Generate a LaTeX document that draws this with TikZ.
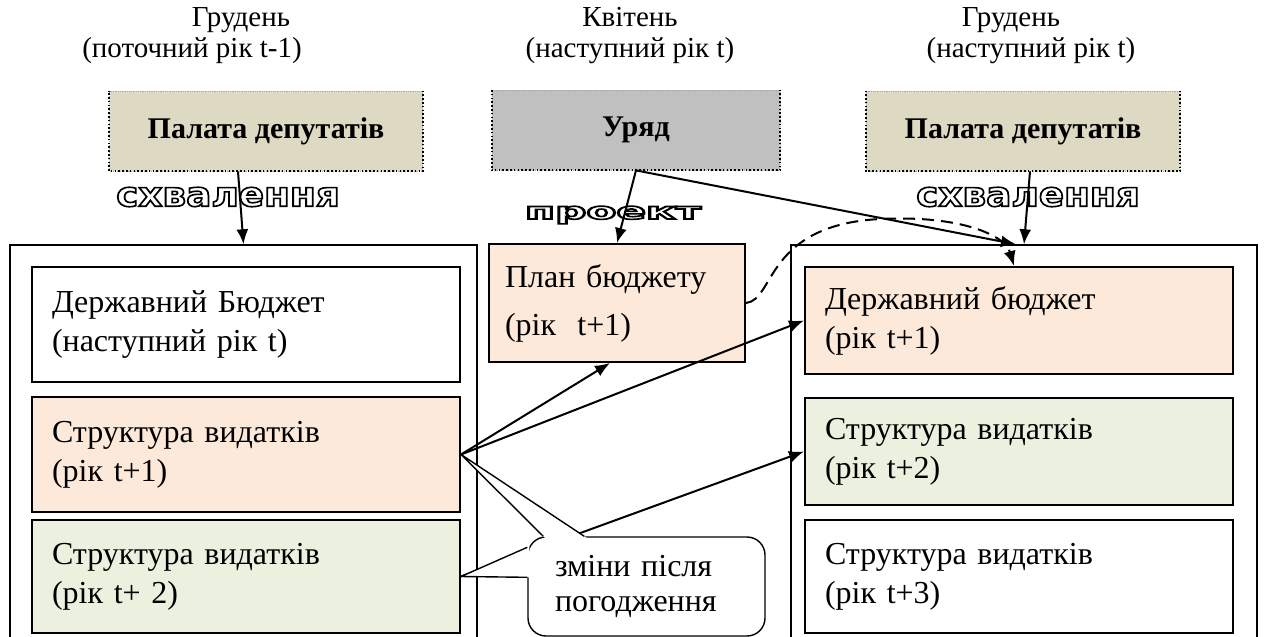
\documentclass[tikz,border=0pt]{standalone}
\usepackage{fontspec}
\setmainfont{Liberation Serif}
\newfontfamily\wordart{DejaVu Sans}
\usepackage{graphicx}
\usetikzlibrary{arrows.meta,positioning,calc}

\definecolor{palatafill}{HTML}{DDD9C3}
\definecolor{uryadfill}{HTML}{C0C0C0}
\definecolor{peachfill}{HTML}{FDE9D9}
\definecolor{greenfill}{HTML}{EBF1DE}

% hollow (outlined) letters
\newcommand{\hollow}[1]{\special{pdf:code 1 Tr 1.6 w}#1\special{pdf:code 0 Tr}}

\begin{document}
\begin{tikzpicture}[
    x=1pt, y=-1pt,
    month/.style={anchor=base, font=\fontsize{29}{30}\selectfont},
    topbox/.style={rectangle, draw=gray!70, densely dotted, line width=0.8pt, minimum height=80pt, font=\fontsize{30}{34}\selectfont\bfseries},
    edgedot/.style={line width=2pt, dash pattern=on 1.6pt off 2.2pt},
    container/.style={rectangle, draw, line width=1.4pt, minimum width=467pt, minimum height=420pt},
    infobox/.style={rectangle, draw, line width=2pt, align=left, inner sep=0pt, minimum width=428pt, text width=388pt, font=\fontsize{32}{39}\selectfont},
    tag/.style={font=\fontsize{34}{34}\wordart\bfseries},
    conn/.style={-{Latex[length=15pt,width=12pt]}, line width=2pt},
    callout/.style={rectangle, draw, line width=1.4pt, fill=white, rounded corners=18pt, minimum width=237pt, minimum height=99pt, text width=183pt, inner sep=0pt, align=left, font=\fontsize{32}{35}\selectfont}
]
    \useasboundingbox (0,0) rectangle (1264,637);

    % Headers
    \node[month] (m1) at (241,27) {Грудень};
    \node[month] (y1) at (192,57) {(поточний рік t-1)};
    \node[month] (m2) at (630,27) {Квітень};
    \node[month] (y2) at (630,57) {(наступний рік t)};
    \node[month] (m3) at (1011,27) {Грудень};
    \node[month] (y3) at (1031,57) {(наступний рік t)};

    % Top boxes
    \node[topbox, fill=palatafill, minimum width=313pt] (palL) at (266,131) {Палата депутатів};
    \node[topbox, fill=uryadfill, minimum width=288pt] (uryad) at (636,130) {Уряд};
    \node[topbox, fill=palatafill, minimum width=314pt] (palR) at (1023,131) {Палата депутатів};
    \foreach \b in {palL,uryad,palR}
        \draw[edgedot] (\b.north east) -- (\b.south east) -- (\b.south west) -- (\b.north west);

    % Containers
    \node[container] (leftC) at (243.5,455) {};
    \node[container, minimum width=466pt] (rightC) at (1024,455) {};

    % Left column
    \node[infobox, minimum height=115pt] (dbL) at (246,324.5) {Державний Бюджет\\(наступний рік t)};
    \node[infobox, fill=peachfill, minimum height=115pt] (s1) at (246,454.5) {Структура видатків\\(рік t+1)};
    \node[infobox, fill=greenfill, minimum height=113pt] (s2) at (246,576.5) {Структура видатків\\(рік t+ 2)};

    % Middle
    \node[infobox, fill=peachfill, minimum width=256pt, text width=224pt, minimum height=118pt, font=\fontsize{32}{48}\selectfont] (plan) at (617,303) {План бюджету\\(рік~ t+1)};

    % Right column
    \node[infobox, fill=peachfill, minimum height=107pt] (rbud) at (1019,320.5) {Державний бюджет\\(рік t+1)};
    \node[infobox, fill=greenfill, minimum height=107pt] (rs2) at (1019,451.5) {Структура видатків\\(рік t+2)};
    \node[infobox, minimum height=113pt] (rs3) at (1019,576.5) {Структура видатків\\(рік t+3)};

    % Outlined labels
    \node[tag] (ok1) at (228,197) {\scalebox{1.1}[1]{\hollow{схвалення}}};
    \node[tag] (ok2) at (1028,197) {\scalebox{1.1}[1]{\hollow{схвалення}}};
    \node[tag, font=\fontsize{23}{23}\wordart\bfseries] (draft) at (613,215) {\scalebox{1.9}[1]{\hollow{проект}}};

    % Arrows
    \draw[conn] ([xshift=-28pt]palL.south) -- (leftC.north);
    \draw[conn] (uryad.south) -- (plan.north);
    \draw[conn] (uryad.south) -- ([xshift=-8pt]rightC.north);
    \draw[conn] ([xshift=7pt]palR.south) -- (rightC.north);
    \draw[conn, dash pattern=on 12pt off 7pt] (plan.east) .. controls (775,300) and (765,225) .. (880,219)
        .. controls (960,215) and (1005,235) .. ([xshift=-5pt]rbud.north);
    \draw[conn] (s1.east) -- ([xshift=-7pt]plan.south);
    \draw[conn] (s1.east) -- (rbud.west);
    \draw[conn] (s2.east) -- (rs2.west);

    % Callout
    \node[callout] (note) at (646.5,586.5) {зміни після\\погодження};
    \coordinate (pa) at ([xshift=16pt]note.north west);
    \coordinate (pb) at ([xshift=57pt]note.north west);
    \coordinate (pc) at ([yshift=-11pt]note.north west);
    \coordinate (pd) at ([yshift=-41pt]note.north west);
    \fill[white] (s1.east) -- ($(s1.east)!1.03!(pa)$) -- ($(s1.east)!1.03!(pb)$) -- cycle;
    \draw[line width=1.4pt, line join=round] (pa) -- (s1.east) -- (pb);
    \fill[white] (s2.east) -- ($(s2.east)!1.03!(pc)$) -- ($(s2.east)!1.03!(pd)$) -- cycle;
    \draw[line width=1.4pt, line join=round] (pc) -- (s2.east) -- (pd);
\end{tikzpicture}
\end{document}
